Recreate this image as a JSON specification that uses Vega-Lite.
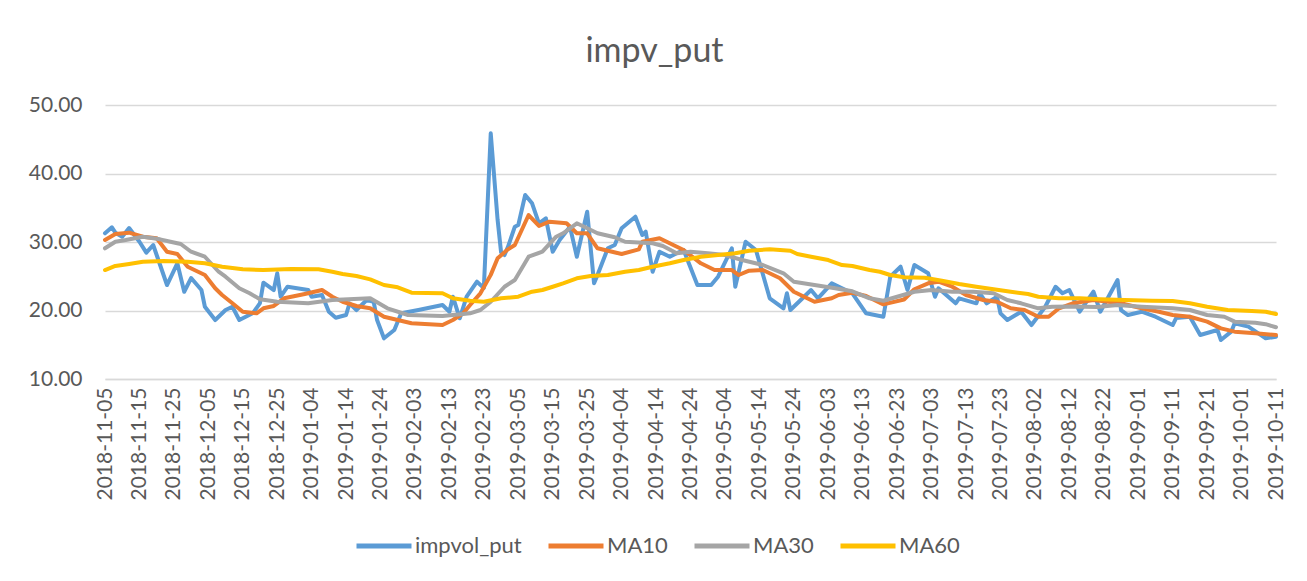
{
 "$schema": "https://vega.github.io/schema/vega-lite/v6.json",
 "width": 1171, "height": 274,
 "autosize": {"type": "none"},
 "padding": {"left": 105, "top": 105, "right": 31, "bottom": 202},
 "background": "white",
 "title": {"text": "impv_put", "fontSize": 34, "font": "Lato", "fontWeight": "normal", "color": "#595959", "anchor": "middle", "offset": 25, "dx": -36},
 "config": {"view": {"stroke": null}},
 "data": {"values": [
 {"d":"2018-11-05","s":"impvol_put","v":31.27},{"d":"2018-11-07","s":"impvol_put","v":32.15},{"d":"2018-11-08","s":"impvol_put","v":31.36},{"d":"2018-11-10","s":"impvol_put","v":30.77},{"d":"2018-11-12","s":"impvol_put","v":32.04},{"d":"2018-11-15","s":"impvol_put","v":30.04},{"d":"2018-11-17","s":"impvol_put","v":28.44},{"d":"2018-11-19","s":"impvol_put","v":29.56},{"d":"2018-11-20","s":"impvol_put","v":28.1},{"d":"2018-11-23","s":"impvol_put","v":23.72},{"d":"2018-11-26","s":"impvol_put","v":26.89},{"d":"2018-11-28","s":"impvol_put","v":22.74},{"d":"2018-11-30","s":"impvol_put","v":24.74},
 {"d":"2018-12-03","s":"impvol_put","v":22.99},{"d":"2018-12-04","s":"impvol_put","v":20.55},{"d":"2018-12-07","s":"impvol_put","v":18.61},{"d":"2018-12-10","s":"impvol_put","v":20.07},{"d":"2018-12-12","s":"impvol_put","v":20.55},{"d":"2018-12-14","s":"impvol_put","v":18.61},{"d":"2018-12-18","s":"impvol_put","v":19.64},{"d":"2018-12-20","s":"impvol_put","v":21.09},{"d":"2018-12-21","s":"impvol_put","v":24.06},{"d":"2018-12-24","s":"impvol_put","v":22.99},{"d":"2018-12-25","s":"impvol_put","v":25.43},{"d":"2018-12-26","s":"impvol_put","v":22.01},{"d":"2018-12-28","s":"impvol_put","v":23.47},
 {"d":"2019-01-03","s":"impvol_put","v":22.99},{"d":"2019-01-04","s":"impvol_put","v":22.01},{"d":"2019-01-07","s":"impvol_put","v":22.26},{"d":"2019-01-09","s":"impvol_put","v":19.82},{"d":"2019-01-11","s":"impvol_put","v":18.95},{"d":"2019-01-14","s":"impvol_put","v":19.34},{"d":"2019-01-15","s":"impvol_put","v":21.05},{"d":"2019-01-17","s":"impvol_put","v":20.07},{"d":"2019-01-20","s":"impvol_put","v":21.53},{"d":"2019-01-22","s":"impvol_put","v":21.28},{"d":"2019-01-23","s":"impvol_put","v":18.61},{"d":"2019-01-25","s":"impvol_put","v":15.94},{"d":"2019-01-28","s":"impvol_put","v":17.15},{"d":"2019-01-30","s":"impvol_put","v":19.59},
 {"d":"2019-02-04","s":"impvol_put","v":20.07},{"d":"2019-02-11","s":"impvol_put","v":20.8},{"d":"2019-02-13","s":"impvol_put","v":19.82},{"d":"2019-02-14","s":"impvol_put","v":22.01},{"d":"2019-02-16","s":"impvol_put","v":18.86},{"d":"2019-02-18","s":"impvol_put","v":22.01},{"d":"2019-02-21","s":"impvol_put","v":24.2},{"d":"2019-02-23","s":"impvol_put","v":23.3},{"d":"2019-02-25","s":"impvol_put","v":45.87},{"d":"2019-02-27","s":"impvol_put","v":33.2},{"d":"2019-02-28","s":"impvol_put","v":28.5},
 {"d":"2019-03-01","s":"impvol_put","v":28.1},{"d":"2019-03-02","s":"impvol_put","v":29.3},{"d":"2019-03-04","s":"impvol_put","v":32.23},{"d":"2019-03-05","s":"impvol_put","v":32.48},{"d":"2019-03-07","s":"impvol_put","v":36.86},{"d":"2019-03-09","s":"impvol_put","v":35.65},{"d":"2019-03-11","s":"impvol_put","v":32.73},{"d":"2019-03-13","s":"impvol_put","v":33.46},{"d":"2019-03-15","s":"impvol_put","v":28.58},{"d":"2019-03-17","s":"impvol_put","v":30.29},{"d":"2019-03-20","s":"impvol_put","v":32.23},{"d":"2019-03-22","s":"impvol_put","v":27.85},{"d":"2019-03-25","s":"impvol_put","v":34.42},{"d":"2019-03-27","s":"impvol_put","v":23.97},{"d":"2019-03-28","s":"impvol_put","v":25.18},{"d":"2019-03-31","s":"impvol_put","v":29.08},
 {"d":"2019-04-02","s":"impvol_put","v":29.56},{"d":"2019-04-04","s":"impvol_put","v":32.0},{"d":"2019-04-08","s":"impvol_put","v":33.69},{"d":"2019-04-10","s":"impvol_put","v":31.02},{"d":"2019-04-11","s":"impvol_put","v":31.5},{"d":"2019-04-13","s":"impvol_put","v":25.66},{"d":"2019-04-15","s":"impvol_put","v":28.58},{"d":"2019-04-18","s":"impvol_put","v":27.85},{"d":"2019-04-20","s":"impvol_put","v":28.35},{"d":"2019-04-22","s":"impvol_put","v":28.83},{"d":"2019-04-26","s":"impvol_put","v":23.72},{"d":"2019-04-30","s":"impvol_put","v":23.72},
 {"d":"2019-05-02","s":"impvol_put","v":24.93},{"d":"2019-05-06","s":"impvol_put","v":29.08},{"d":"2019-05-07","s":"impvol_put","v":23.47},{"d":"2019-05-10","s":"impvol_put","v":30.04},{"d":"2019-05-13","s":"impvol_put","v":28.83},{"d":"2019-05-17","s":"impvol_put","v":21.78},{"d":"2019-05-21","s":"impvol_put","v":20.32},{"d":"2019-05-22","s":"impvol_put","v":22.51},{"d":"2019-05-23","s":"impvol_put","v":20.07},{"d":"2019-05-26","s":"impvol_put","v":21.53},{"d":"2019-05-29","s":"impvol_put","v":22.99},{"d":"2019-05-31","s":"impvol_put","v":21.78},
 {"d":"2019-06-04","s":"impvol_put","v":23.97},{"d":"2019-06-10","s":"impvol_put","v":22.51},{"d":"2019-06-14","s":"impvol_put","v":19.59},{"d":"2019-06-19","s":"impvol_put","v":19.09},{"d":"2019-06-21","s":"impvol_put","v":24.93},{"d":"2019-06-24","s":"impvol_put","v":26.39},{"d":"2019-06-26","s":"impvol_put","v":22.99},{"d":"2019-06-28","s":"impvol_put","v":26.64},
 {"d":"2019-07-02","s":"impvol_put","v":25.43},{"d":"2019-07-04","s":"impvol_put","v":22.01},{"d":"2019-07-05","s":"impvol_put","v":23.24},{"d":"2019-07-10","s":"impvol_put","v":21.05},{"d":"2019-07-11","s":"impvol_put","v":21.78},{"d":"2019-07-16","s":"impvol_put","v":21.05},{"d":"2019-07-17","s":"impvol_put","v":22.51},{"d":"2019-07-19","s":"impvol_put","v":21.05},{"d":"2019-07-22","s":"impvol_put","v":22.01},{"d":"2019-07-23","s":"impvol_put","v":19.59},{"d":"2019-07-25","s":"impvol_put","v":18.61},{"d":"2019-07-29","s":"impvol_put","v":19.82},
 {"d":"2019-08-01","s":"impvol_put","v":17.88},{"d":"2019-08-05","s":"impvol_put","v":20.55},{"d":"2019-08-08","s":"impvol_put","v":23.47},{"d":"2019-08-10","s":"impvol_put","v":22.51},{"d":"2019-08-12","s":"impvol_put","v":22.99},{"d":"2019-08-15","s":"impvol_put","v":19.82},{"d":"2019-08-19","s":"impvol_put","v":22.74},{"d":"2019-08-21","s":"impvol_put","v":19.82},{"d":"2019-08-26","s":"impvol_put","v":24.45},{"d":"2019-08-27","s":"impvol_put","v":20.07},{"d":"2019-08-29","s":"impvol_put","v":19.34},
 {"d":"2019-09-02","s":"impvol_put","v":19.82},{"d":"2019-09-06","s":"impvol_put","v":19.09},{"d":"2019-09-11","s":"impvol_put","v":17.88},{"d":"2019-09-12","s":"impvol_put","v":18.9},{"d":"2019-09-16","s":"impvol_put","v":19.09},{"d":"2019-09-19","s":"impvol_put","v":16.42},{"d":"2019-09-24","s":"impvol_put","v":17.15},{"d":"2019-09-25","s":"impvol_put","v":15.69},{"d":"2019-09-28","s":"impvol_put","v":16.91},{"d":"2019-09-29","s":"impvol_put","v":18.13},
 {"d":"2019-10-03","s":"impvol_put","v":17.64},{"d":"2019-10-08","s":"impvol_put","v":15.94},{"d":"2019-10-11","s":"impvol_put","v":16.18},

 {"d":"2018-11-05","s":"MA10","v":30.29},{"d":"2018-11-08","s":"MA10","v":31.17},{"d":"2018-11-12","s":"MA10","v":31.36},{"d":"2018-11-16","s":"MA10","v":30.77},{"d":"2018-11-20","s":"MA10","v":30.54},{"d":"2018-11-23","s":"MA10","v":28.58},{"d":"2018-11-26","s":"MA10","v":28.25},{"d":"2018-11-29","s":"MA10","v":26.39},{"d":"2018-12-04","s":"MA10","v":25.18},{"d":"2018-12-07","s":"MA10","v":23.24},{"d":"2018-12-09","s":"MA10","v":22.26},{"d":"2018-12-12","s":"MA10","v":21.05},{"d":"2018-12-15","s":"MA10","v":19.82},{"d":"2018-12-19","s":"MA10","v":19.59},{"d":"2018-12-21","s":"MA10","v":20.32},{"d":"2018-12-24","s":"MA10","v":20.66},{"d":"2018-12-27","s":"MA10","v":21.78},
 {"d":"2019-01-02","s":"MA10","v":22.41},{"d":"2019-01-07","s":"MA10","v":22.99},{"d":"2019-01-10","s":"MA10","v":22.01},{"d":"2019-01-13","s":"MA10","v":21.28},{"d":"2019-01-17","s":"MA10","v":20.66},{"d":"2019-01-21","s":"MA10","v":20.32},{"d":"2019-01-25","s":"MA10","v":19.09},{"d":"2019-01-29","s":"MA10","v":18.61},{"d":"2019-02-02","s":"MA10","v":18.13},{"d":"2019-02-11","s":"MA10","v":17.88},{"d":"2019-02-14","s":"MA10","v":18.61},{"d":"2019-02-17","s":"MA10","v":19.59},{"d":"2019-02-19","s":"MA10","v":20.8},{"d":"2019-02-22","s":"MA10","v":22.51},{"d":"2019-02-25","s":"MA10","v":25.2},{"d":"2019-02-27","s":"MA10","v":27.62},
 {"d":"2019-03-02","s":"MA10","v":28.93},{"d":"2019-03-04","s":"MA10","v":29.56},{"d":"2019-03-06","s":"MA10","v":31.75},{"d":"2019-03-08","s":"MA10","v":33.94},{"d":"2019-03-11","s":"MA10","v":32.34},{"d":"2019-03-14","s":"MA10","v":32.97},{"d":"2019-03-19","s":"MA10","v":32.73},{"d":"2019-03-22","s":"MA10","v":31.27},{"d":"2019-03-25","s":"MA10","v":31.27},{"d":"2019-03-28","s":"MA10","v":29.08},{"d":"2019-03-31","s":"MA10","v":28.73},
 {"d":"2019-04-04","s":"MA10","v":28.25},{"d":"2019-04-09","s":"MA10","v":28.93},{"d":"2019-04-10","s":"MA10","v":30.04},{"d":"2019-04-15","s":"MA10","v":30.54},{"d":"2019-04-19","s":"MA10","v":29.56},{"d":"2019-04-22","s":"MA10","v":28.83},{"d":"2019-04-27","s":"MA10","v":26.89},
 {"d":"2019-05-01","s":"MA10","v":25.91},{"d":"2019-05-06","s":"MA10","v":25.91},{"d":"2019-05-08","s":"MA10","v":25.18},{"d":"2019-05-11","s":"MA10","v":25.81},{"d":"2019-05-15","s":"MA10","v":25.91},{"d":"2019-05-20","s":"MA10","v":24.7},{"d":"2019-05-24","s":"MA10","v":22.74},{"d":"2019-05-30","s":"MA10","v":21.28},
 {"d":"2019-06-04","s":"MA10","v":21.78},{"d":"2019-06-06","s":"MA10","v":22.26},{"d":"2019-06-10","s":"MA10","v":22.6},{"d":"2019-06-14","s":"MA10","v":22.12},{"d":"2019-06-19","s":"MA10","v":20.9},{"d":"2019-06-25","s":"MA10","v":21.6},{"d":"2019-06-28","s":"MA10","v":23.1},
 {"d":"2019-07-02","s":"MA10","v":23.97},{"d":"2019-07-05","s":"MA10","v":24.2},{"d":"2019-07-09","s":"MA10","v":23.47},{"d":"2019-07-13","s":"MA10","v":22.26},{"d":"2019-07-18","s":"MA10","v":21.53},{"d":"2019-07-22","s":"MA10","v":21.28},{"d":"2019-07-26","s":"MA10","v":20.32},{"d":"2019-07-30","s":"MA10","v":20.07},
 {"d":"2019-08-03","s":"MA10","v":19.09},{"d":"2019-08-06","s":"MA10","v":19.09},{"d":"2019-08-09","s":"MA10","v":20.32},{"d":"2019-08-13","s":"MA10","v":21.05},{"d":"2019-08-19","s":"MA10","v":21.53},{"d":"2019-08-27","s":"MA10","v":21.05},
 {"d":"2019-09-02","s":"MA10","v":20.32},{"d":"2019-09-07","s":"MA10","v":19.82},{"d":"2019-09-11","s":"MA10","v":19.34},{"d":"2019-09-16","s":"MA10","v":19.09},{"d":"2019-09-21","s":"MA10","v":18.37},{"d":"2019-09-25","s":"MA10","v":17.39},{"d":"2019-09-29","s":"MA10","v":16.91},{"d":"2019-10-05","s":"MA10","v":16.67},{"d":"2019-10-11","s":"MA10","v":16.42},

 {"d":"2018-11-05","s":"MA30","v":29.08},{"d":"2018-11-08","s":"MA30","v":30.04},{"d":"2018-11-11","s":"MA30","v":30.29},{"d":"2018-11-16","s":"MA30","v":30.77},{"d":"2018-11-21","s":"MA30","v":30.39},{"d":"2018-11-24","s":"MA30","v":30.04},{"d":"2018-11-27","s":"MA30","v":29.71},{"d":"2018-11-30","s":"MA30","v":28.58},{"d":"2018-12-04","s":"MA30","v":27.85},{"d":"2018-12-08","s":"MA30","v":25.66},{"d":"2018-12-10","s":"MA30","v":24.93},{"d":"2018-12-14","s":"MA30","v":23.24},{"d":"2018-12-17","s":"MA30","v":22.51},{"d":"2018-12-20","s":"MA30","v":21.64},{"d":"2018-12-25","s":"MA30","v":21.28},
 {"d":"2019-01-03","s":"MA30","v":21.05},{"d":"2019-01-10","s":"MA30","v":21.53},{"d":"2019-01-21","s":"MA30","v":21.78},{"d":"2019-01-26","s":"MA30","v":20.32},{"d":"2019-02-01","s":"MA30","v":19.34},{"d":"2019-02-11","s":"MA30","v":19.2},{"d":"2019-02-17","s":"MA30","v":19.49},{"d":"2019-02-19","s":"MA30","v":19.59},{"d":"2019-02-22","s":"MA30","v":20.07},{"d":"2019-02-25","s":"MA30","v":21.28},
 {"d":"2019-03-01","s":"MA30","v":23.47},{"d":"2019-03-04","s":"MA30","v":24.45},{"d":"2019-03-08","s":"MA30","v":27.85},{"d":"2019-03-12","s":"MA30","v":28.58},{"d":"2019-03-16","s":"MA30","v":30.77},{"d":"2019-03-18","s":"MA30","v":31.27},{"d":"2019-03-22","s":"MA30","v":32.73},{"d":"2019-03-25","s":"MA30","v":32.0},{"d":"2019-03-28","s":"MA30","v":31.27},
 {"d":"2019-04-02","s":"MA30","v":30.69},{"d":"2019-04-05","s":"MA30","v":30.04},{"d":"2019-04-13","s":"MA30","v":29.81},{"d":"2019-04-16","s":"MA30","v":29.42},{"d":"2019-04-20","s":"MA30","v":28.35},{"d":"2019-04-24","s":"MA30","v":28.58},{"d":"2019-04-29","s":"MA30","v":28.35},
 {"d":"2019-05-04","s":"MA30","v":28.1},{"d":"2019-05-09","s":"MA30","v":27.37},{"d":"2019-05-15","s":"MA30","v":26.64},{"d":"2019-05-21","s":"MA30","v":25.43},{"d":"2019-05-24","s":"MA30","v":24.2},{"d":"2019-05-30","s":"MA30","v":23.72},
 {"d":"2019-06-05","s":"MA30","v":23.24},{"d":"2019-06-10","s":"MA30","v":22.8},{"d":"2019-06-15","s":"MA30","v":21.78},{"d":"2019-06-19","s":"MA30","v":21.43},{"d":"2019-06-23","s":"MA30","v":22.01},{"d":"2019-06-28","s":"MA30","v":22.74},
 {"d":"2019-07-03","s":"MA30","v":22.99},{"d":"2019-07-09","s":"MA30","v":22.74},{"d":"2019-07-15","s":"MA30","v":22.74},{"d":"2019-07-21","s":"MA30","v":22.51},{"d":"2019-07-25","s":"MA30","v":21.53},{"d":"2019-07-29","s":"MA30","v":21.05},
 {"d":"2019-08-03","s":"MA30","v":20.32},{"d":"2019-08-07","s":"MA30","v":20.55},{"d":"2019-08-13","s":"MA30","v":20.6},{"d":"2019-08-20","s":"MA30","v":20.5},{"d":"2019-08-26","s":"MA30","v":20.8},
 {"d":"2019-09-02","s":"MA30","v":20.55},{"d":"2019-09-11","s":"MA30","v":20.32},{"d":"2019-09-16","s":"MA30","v":20.07},{"d":"2019-09-21","s":"MA30","v":19.34},{"d":"2019-09-26","s":"MA30","v":19.09},{"d":"2019-09-29","s":"MA30","v":18.37},{"d":"2019-10-05","s":"MA30","v":18.22},{"d":"2019-10-08","s":"MA30","v":18.0},{"d":"2019-10-11","s":"MA30","v":17.55},

 {"d":"2018-11-05","s":"MA60","v":25.91},{"d":"2018-11-08","s":"MA60","v":26.5},{"d":"2018-11-12","s":"MA60","v":26.79},{"d":"2018-11-16","s":"MA60","v":27.12},{"d":"2018-11-22","s":"MA60","v":27.23},{"d":"2018-11-29","s":"MA60","v":27.12},{"d":"2018-12-04","s":"MA60","v":26.89},{"d":"2018-12-09","s":"MA60","v":26.39},{"d":"2018-12-15","s":"MA60","v":26.01},{"d":"2018-12-21","s":"MA60","v":25.91},{"d":"2018-12-29","s":"MA60","v":26.06},
 {"d":"2019-01-06","s":"MA60","v":26.01},{"d":"2019-01-10","s":"MA60","v":25.66},{"d":"2019-01-13","s":"MA60","v":25.33},{"d":"2019-01-17","s":"MA60","v":25.04},{"d":"2019-01-21","s":"MA60","v":24.55},{"d":"2019-01-25","s":"MA60","v":23.72},{"d":"2019-01-29","s":"MA60","v":23.39},{"d":"2019-02-02","s":"MA60","v":22.6},{"d":"2019-02-11","s":"MA60","v":22.51},{"d":"2019-02-14","s":"MA60","v":21.78},{"d":"2019-02-19","s":"MA60","v":21.43},{"d":"2019-02-23","s":"MA60","v":21.28},{"d":"2019-02-28","s":"MA60","v":21.78},
 {"d":"2019-03-05","s":"MA60","v":22.01},{"d":"2019-03-09","s":"MA60","v":22.74},{"d":"2019-03-12","s":"MA60","v":22.99},{"d":"2019-03-15","s":"MA60","v":23.47},{"d":"2019-03-18","s":"MA60","v":23.97},{"d":"2019-03-22","s":"MA60","v":24.7},{"d":"2019-03-26","s":"MA60","v":25.04},{"d":"2019-03-31","s":"MA60","v":25.18},
 {"d":"2019-04-05","s":"MA60","v":25.66},{"d":"2019-04-09","s":"MA60","v":25.91},{"d":"2019-04-13","s":"MA60","v":26.39},{"d":"2019-04-18","s":"MA60","v":26.89},{"d":"2019-04-22","s":"MA60","v":27.37},{"d":"2019-04-27","s":"MA60","v":27.85},
 {"d":"2019-05-02","s":"MA60","v":28.1},{"d":"2019-05-07","s":"MA60","v":28.35},{"d":"2019-05-11","s":"MA60","v":28.73},{"d":"2019-05-17","s":"MA60","v":28.93},{"d":"2019-05-23","s":"MA60","v":28.73},{"d":"2019-05-25","s":"MA60","v":28.25},{"d":"2019-05-29","s":"MA60","v":27.85},
 {"d":"2019-06-03","s":"MA60","v":27.37},{"d":"2019-06-07","s":"MA60","v":26.64},{"d":"2019-06-10","s":"MA60","v":26.5},{"d":"2019-06-15","s":"MA60","v":25.91},{"d":"2019-06-18","s":"MA60","v":25.66},{"d":"2019-06-21","s":"MA60","v":25.18},{"d":"2019-06-25","s":"MA60","v":24.84},
 {"d":"2019-07-01","s":"MA60","v":24.79},{"d":"2019-07-06","s":"MA60","v":24.35},{"d":"2019-07-11","s":"MA60","v":23.87},{"d":"2019-07-16","s":"MA60","v":23.47},{"d":"2019-07-21","s":"MA60","v":23.09},{"d":"2019-07-26","s":"MA60","v":22.74},{"d":"2019-07-31","s":"MA60","v":22.41},
 {"d":"2019-08-03","s":"MA60","v":22.01},{"d":"2019-08-09","s":"MA60","v":21.78},{"d":"2019-08-15","s":"MA60","v":21.78},{"d":"2019-08-21","s":"MA60","v":21.64},{"d":"2019-08-28","s":"MA60","v":21.53},
 {"d":"2019-09-05","s":"MA60","v":21.43},{"d":"2019-09-11","s":"MA60","v":21.39},{"d":"2019-09-16","s":"MA60","v":21.05},{"d":"2019-09-21","s":"MA60","v":20.55},{"d":"2019-09-27","s":"MA60","v":20.07},{"d":"2019-10-04","s":"MA60","v":19.93},{"d":"2019-10-08","s":"MA60","v":19.82},{"d":"2019-10-11","s":"MA60","v":19.49}
 ]},
 "encoding": {
  "x": {"field": "d", "type": "temporal",
   "scale": {"type": "utc", "domain": [{"year": 2018, "month": 11, "date": 5, "utc": true}, {"year": 2019, "month": 10, "date": 11, "utc": true}]},
   "axis": {"title": null, "format": "%Y-%m-%d", "labelAngle": -90, "grid": false, "ticks": false, "domainColor": "#D9D9D9", "domainWidth": 1.3, "labelPadding": 8, "labelFontSize": 21, "labelFont": "Lato", "labelColor": "#595959", "labelOverlap": false, "labelFlush": false, "labelBound": false,
    "values": [
     {"year": 2018, "month": 11, "date": 5, "utc": true}, {"year": 2018, "month": 11, "date": 15, "utc": true}, {"year": 2018, "month": 11, "date": 25, "utc": true},
     {"year": 2018, "month": 12, "date": 5, "utc": true}, {"year": 2018, "month": 12, "date": 15, "utc": true}, {"year": 2018, "month": 12, "date": 25, "utc": true},
     {"year": 2019, "month": 1, "date": 4, "utc": true}, {"year": 2019, "month": 1, "date": 14, "utc": true}, {"year": 2019, "month": 1, "date": 24, "utc": true},
     {"year": 2019, "month": 2, "date": 3, "utc": true}, {"year": 2019, "month": 2, "date": 13, "utc": true}, {"year": 2019, "month": 2, "date": 23, "utc": true},
     {"year": 2019, "month": 3, "date": 5, "utc": true}, {"year": 2019, "month": 3, "date": 15, "utc": true}, {"year": 2019, "month": 3, "date": 25, "utc": true},
     {"year": 2019, "month": 4, "date": 4, "utc": true}, {"year": 2019, "month": 4, "date": 14, "utc": true}, {"year": 2019, "month": 4, "date": 24, "utc": true},
     {"year": 2019, "month": 5, "date": 4, "utc": true}, {"year": 2019, "month": 5, "date": 14, "utc": true}, {"year": 2019, "month": 5, "date": 24, "utc": true},
     {"year": 2019, "month": 6, "date": 3, "utc": true}, {"year": 2019, "month": 6, "date": 13, "utc": true}, {"year": 2019, "month": 6, "date": 23, "utc": true},
     {"year": 2019, "month": 7, "date": 3, "utc": true}, {"year": 2019, "month": 7, "date": 13, "utc": true}, {"year": 2019, "month": 7, "date": 23, "utc": true},
     {"year": 2019, "month": 8, "date": 2, "utc": true}, {"year": 2019, "month": 8, "date": 12, "utc": true}, {"year": 2019, "month": 8, "date": 22, "utc": true},
     {"year": 2019, "month": 9, "date": 1, "utc": true}, {"year": 2019, "month": 9, "date": 11, "utc": true}, {"year": 2019, "month": 9, "date": 21, "utc": true},
     {"year": 2019, "month": 10, "date": 1, "utc": true}, {"year": 2019, "month": 10, "date": 11, "utc": true}
    ]}},
  "y": {"field": "v", "type": "quantitative",
   "scale": {"domain": [10, 50]},
   "axis": {"title": null, "values": [10, 20, 30, 40, 50], "format": ".2f", "domain": false, "ticks": false, "labelPadding": 23, "labelFontSize": 21, "labelFont": "Lato", "labelColor": "#595959", "gridColor": "#D9D9D9", "gridWidth": 1.3}},
  "color": {"field": "s", "type": "nominal",
   "scale": {"domain": ["impvol_put", "MA10", "MA30", "MA60"], "range": ["#5B9BD5", "#ED7D31", "#A5A5A5", "#FFC000"]},
   "legend": {"title": null, "orient": "none", "direction": "horizontal", "legendX": 249, "legendY": 411, "symbolType": "stroke", "symbolStrokeWidth": 5, "symbolSize": 3025, "labelFontSize": 22, "labelFont": "Lato", "labelColor": "#595959", "columnPadding": 16, "labelOffset": 1, "padding": 0}}
 },
 "layer": [
  {"transform": [{"filter": "datum.s === 'impvol_put'"}], "mark": {"type": "line", "strokeWidth": 4, "strokeJoin": "round", "strokeCap": "round"}},
  {"transform": [{"filter": "datum.s === 'MA10'"}], "mark": {"type": "line", "strokeWidth": 4, "strokeJoin": "round", "strokeCap": "round"}},
  {"transform": [{"filter": "datum.s === 'MA30'"}], "mark": {"type": "line", "strokeWidth": 4, "strokeJoin": "round", "strokeCap": "round"}},
  {"transform": [{"filter": "datum.s === 'MA60'"}], "mark": {"type": "line", "strokeWidth": 4, "strokeJoin": "round", "strokeCap": "round"}}
 ]
}
